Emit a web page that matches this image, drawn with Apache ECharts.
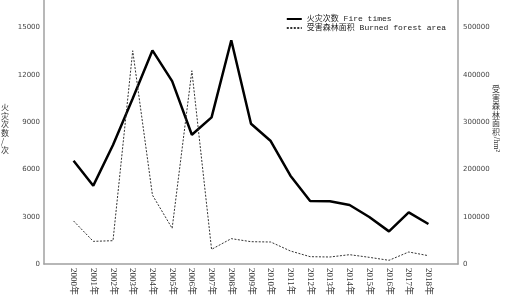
<!DOCTYPE html>
<html>
<head>
<meta charset="utf-8">
<script src="https://cdn.jsdelivr.net/npm/echarts@6/dist/echarts.min.js"></script>
<style>
html,body{margin:0;padding:0;background:#fff;}
#main{width:508px;height:301px;}
</style>
</head>
<body>
<div id="main"></div>
<script>
// 年份（两端留空类目，让折线与坐标轴留出间距）
var years = ['', '2000年','2001年','2002年','2003年','2004年','2005年','2006年','2007年','2008年','2009年',
	'2010年','2011年','2012年','2013年','2014年','2015年','2016年','2017年','2018年', ''];
// 火灾次数 Fire times
var fireTimes = [null, 6550, 4970, 7550, 10500, 13550, 11600, 8200, 9300, 14200, 8900,
	7800, 5600, 4000, 3980, 3740, 2980, 2070, 3280, 2540, null];
// 受害森林面积 Burned forest area (hm²)
var burnedArea = [null, 91000, 47900, 49300, 451000, 145900, 75400, 408700, 31000, 53600, 47200,
	46500, 27500, 15500, 14800, 19700, 14100, 7800, 25400, 17600, null];

var leftTicks = 3000;
var rightTicks = 100000;

var chart = echarts.init(document.getElementById('main'));
var serif = '"Liberation Serif","DejaVu Serif","Noto Sans CJK SC",serif';
var mono = '"Liberation Mono","DejaVu Sans Mono","Noto Sans CJK SC",monospace';
var cjk = '"Noto Sans CJK SC",sans-serif';
var axisLineStyle = {color:'#a0a0a0', width:1.5};
var plain = function(v){ return String(v); };

var option = {
	animation:false,
	backgroundColor:'#fff',
	grid:{
		left:44,
		right:50,
		top:0,
		bottom:37
	},
	legend:{
		right:57,
		top:10,
		orient:'vertical',
		itemWidth:15,
		itemHeight:8,
		itemGap:1,
		itemStyle:{opacity:0},
		textStyle:{fontFamily:mono, fontSize:8, color:'#222'},
		data:['火灾次数 Fire times','受害森林面积 Burned forest area']
	},
	xAxis:{
		type:'category',
		data:years,
		boundaryGap:true,
		axisLine:{lineStyle:axisLineStyle},
		axisTick:{show:false},
		axisLabel:{
			interval:0,
			rotate:-90,
			margin:4,
			fontFamily:serif,
			fontSize:9,
			color:'#333'
		}
	},
	yAxis:[
		{
			type:'value',
			min:0,
			max:16750,
			interval:leftTicks,
			splitLine:{show:false},
			axisLine:{show:true, lineStyle:axisLineStyle},
			axisTick:{show:false},
			axisLabel:{fontSize:7, color:'#444', margin:4, showMaxLabel:false, formatter:plain, fontFamily:'"DejaVu Sans",sans-serif'}
		},
		{
			type:'value',
			min:0,
			max:558300,
			interval:rightTicks,
			splitLine:{show:false},
			axisLine:{show:true, lineStyle:axisLineStyle},
			axisTick:{show:false},
			axisLabel:{fontSize:7, color:'#444', margin:5, showMaxLabel:false, formatter:plain, fontFamily:'"DejaVu Sans",sans-serif'}
		}
	],
	graphic:[
		{
			type:'text',
			left:1,
			top:103,
			style:{text:'火\n灾\n次\n数\n/\n次', font:'8px ' + cjk, fill:'#333', lineHeight:8.5, align:'left'}
		},
		{
			type:'text',
			left:492,
			top:85,
			style:{text:'受\n害\n森\n林\n面\n积', font:'8px ' + cjk, fill:'#333', lineHeight:8.5}
		},
		{
			type:'text',
			left:492,
			top:137,
			rotation:-Math.PI/2,
			style:{text:'/hm²', font:'8px ' + serif, fill:'#333'}
		}
	],
	series:[
		{
			name:'火灾次数 Fire times',
			type:'line',
			yAxisIndex:0,
			data:fireTimes,
			symbol:'none',
			lineStyle:{color:'#000', width:2.5},
			itemStyle:{color:'#000'}
		},
		{
			name:'受害森林面积 Burned forest area',
			type:'line',
			yAxisIndex:1,
			data:burnedArea,
			symbol:'none',
			lineStyle:{color:'#333', width:1, type:[2,1.5]},
			itemStyle:{color:'#333'}
		}
	]
};
chart.setOption(option);
</script>
</body>
</html>
